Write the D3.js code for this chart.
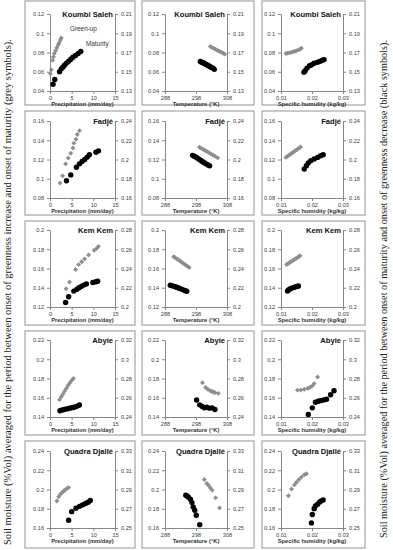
<!DOCTYPE html>
<html>
<head>
<meta charset="utf-8">
<script src="https://cdnjs.cloudflare.com/ajax/libs/d3/7.8.5/d3.min.js"></script>
<style>
body { margin: 0; background: #fff; }
</style>
</head>
<body>
<div class="container"></div>
<script>
const sites = ["Koumbi Saleh", "Fadjé", "Kem Kem", "Abyie", "Quadra Djallé"];
const leftTicks = [
  [0.04, 0.06, 0.08, 0.1, 0.12],
  [0.08, 0.1, 0.12, 0.14, 0.16],
  [0.12, 0.14, 0.16, 0.18, 0.2],
  [0.14, 0.16, 0.18, 0.2, 0.22],
  [0.16, 0.18, 0.2, 0.22, 0.24]
];
const rightTicks = [
  [0.13, 0.15, 0.17, 0.19, 0.21],
  [0.16, 0.18, 0.2, 0.22, 0.24],
  [0.2, 0.22, 0.24, 0.26, 0.28],
  [0.24, 0.26, 0.28, 0.3, 0.32],
  [0.25, 0.27, 0.29, 0.31, 0.33]
];
const precipTicks = [0, 5, 10, 15];
const tempTicks = [288, 298, 308];
const humTicks = [0.01, 0.02, 0.03];
const xTitles = ["Precipitation (mm/day)", "Temperature (°K)", "Specific humidity (kg/kg)"];

// grey = left axis, black = right axis; [x, soil moisture]
const koumbiPrecipGrey = [[0.1,0.058],[0.3,0.062],[0.6,0.072],[0.8,0.0755],[1.0,0.079],[1.3,0.082],[1.6,0.085],[1.9,0.088],[2.1,0.090],[2.4,0.093],[2.6,0.095]];
const koumbiPrecipBlack = [[0.7,0.137],[1.1,0.142],[2.2,0.150],[2.6,0.153],[3.0,0.155],[3.4,0.157],[3.8,0.159],[4.3,0.161],[4.8,0.163],[5.3,0.165],[5.9,0.167],[6.5,0.169],[7.1,0.171]];
const koumbiTempGrey = [[302.6,0.0862],[303.1,0.0853],[303.6,0.0845],[304.1,0.0836],[304.6,0.0827],[305.2,0.0818],[305.7,0.081],[306.3,0.0801],[306.8,0.0792],[307.3,0.0783]];
const koumbiTempBlack = [[299.4,0.1607],[299.8,0.16],[300.2,0.1594],[300.6,0.1588],[301.0,0.1581],[301.4,0.1574],[301.8,0.1567],[302.2,0.156],[302.6,0.1552],[303.0,0.1545],[303.5,0.1537],[303.9,0.1525]];
const koumbiHumGrey = [[0.0116,0.0789],[0.0121,0.0793],[0.0127,0.0797],[0.0133,0.0801],[0.0139,0.0807],[0.0145,0.0813],[0.0151,0.082],[0.0157,0.0827],[0.0162,0.0836],[0.0166,0.0845]];
const koumbiHumBlack = [[0.0174,0.1496],[0.0178,0.151],[0.0184,0.1538],[0.0192,0.1563],[0.0199,0.1573],[0.0207,0.1588],[0.0218,0.1598],[0.0226,0.1609],[0.0234,0.1619],[0.0239,0.1626]];

const fadjePrecipGrey = [[2.3,0.0955],[2.9,0.103],[3.6,0.1155],[4.2,0.1215],[4.8,0.1265],[5.3,0.132],[5.5,0.137],[6.0,0.141],[6.3,0.146],[6.8,0.150]];
const fadjePrecipBlack = [[3.8,0.178],[4.8,0.184],[6.1,0.192],[6.8,0.1955],[7.4,0.198],[8.0,0.2],[8.6,0.2025],[9.1,0.205],[10.6,0.2075],[11.2,0.209]];
const fadjeTempGrey = [[299.1,0.1328],[299.7,0.1317],[300.3,0.1305],[300.9,0.1294],[301.5,0.1283],[302.1,0.1272],[302.8,0.1259],[303.5,0.1246],[304.2,0.1232],[305.0,0.1217]];
const fadjeTempBlack = [[296.9,0.2043],[297.4,0.2035],[297.9,0.2026],[298.4,0.2015],[298.9,0.2004],[299.4,0.1994],[299.9,0.1983],[300.4,0.1972],[300.9,0.1962],[301.4,0.1952],[301.9,0.1943],[302.4,0.1934]];
const fadjeHumGrey = [[0.0116,0.1222],[0.0121,0.1234],[0.0126,0.1245],[0.0131,0.1257],[0.0136,0.1268],[0.0141,0.128],[0.0147,0.1293],[0.0153,0.1306],[0.0158,0.1318],[0.0163,0.133]];
const fadjeHumBlack = [[0.0175,0.1902],[0.0182,0.1936],[0.0188,0.1964],[0.0196,0.1988],[0.0207,0.2005],[0.0218,0.2022],[0.0228,0.2039],[0.0236,0.205]];

const kemPrecipGrey = [[3.7,0.139],[4.5,0.146],[5.9,0.159],[6.6,0.164],[7.3,0.167],[8.0,0.17],[8.9,0.174],[10.2,0.179],[10.8,0.181],[11.2,0.183]];
const kemPrecipBlack = [[3.6,0.2046],[4.3,0.2107],[5.5,0.2165],[6.2,0.2185],[6.7,0.22],[7.3,0.2215],[7.9,0.223],[8.4,0.224],[9.9,0.2255],[10.6,0.2262],[11.0,0.2268]];
const kemTempGrey = [[290.8,0.1722],[291.3,0.1711],[291.9,0.1699],[292.4,0.1688],[293.0,0.1675],[293.5,0.1663],[294.1,0.165],[294.6,0.1637],[295.2,0.1624],[295.8,0.161]];
const kemTempBlack = [[289.7,0.2226],[290.2,0.2222],[290.7,0.2217],[291.2,0.2212],[291.7,0.2206],[292.2,0.22],[292.7,0.2193],[293.3,0.2186],[293.9,0.2178],[294.5,0.217],[295.0,0.2163]];
const kemHumGrey = [[0.0118,0.1642],[0.0123,0.1652],[0.0128,0.1662],[0.0133,0.1672],[0.0138,0.1683],[0.0143,0.1693],[0.0148,0.1703],[0.0153,0.1713],[0.0157,0.1722],[0.0161,0.1732]];
const kemHumBlack = [[0.0121,0.2167],[0.0125,0.218],[0.013,0.219],[0.0136,0.2197],[0.0142,0.2204],[0.0148,0.221],[0.0153,0.2214],[0.0156,0.2218]];

const abyiePrecipGrey = [[2.2,0.158],[2.6,0.161],[3.0,0.164],[3.4,0.167],[3.8,0.17],[4.2,0.173],[4.6,0.1755],[5.0,0.178],[5.4,0.18]];
const abyiePrecipBlack = [[2.3,0.2465],[2.8,0.2472],[3.3,0.2478],[3.8,0.2484],[4.3,0.2489],[4.8,0.2494],[5.3,0.2499],[5.8,0.2505],[6.3,0.2513],[6.8,0.2525]];
const abyieTempGrey = [[300.1,0.1757],[301.1,0.1706],[301.8,0.1689],[302.6,0.1672],[303.2,0.1665],[303.6,0.166],[304.1,0.1655],[305.2,0.1645]];
const abyieTempBlack = [[298.2,0.2577],[299.2,0.2526],[300.0,0.2509],[300.7,0.2495],[301.5,0.2502],[302.3,0.2492],[303.2,0.2495],[304.1,0.2478]];
const abyieHumGrey = [[0.0153,0.1679],[0.0164,0.168],[0.0175,0.1689],[0.0186,0.1697],[0.0193,0.1706],[0.0201,0.1723],[0.0207,0.1747],[0.0218,0.1815]];
const abyieHumBlack = [[0.0188,0.2427],[0.0201,0.2495],[0.0211,0.2553],[0.022,0.2563],[0.0227,0.257],[0.0238,0.2577],[0.0247,0.2584],[0.026,0.2631],[0.0271,0.2672]];

const quadraPrecipGrey = [[1.6,0.188],[2.0,0.1925],[2.4,0.195],[2.8,0.197],[3.2,0.1985],[3.5,0.1998],[3.9,0.201],[4.3,0.202]];
const quadraPrecipBlack = [[4.3,0.258],[5.0,0.267],[6.0,0.2705],[6.8,0.2725],[7.5,0.274],[8.2,0.2755],[8.8,0.2768],[9.3,0.2785]];
const quadraTempGrey = [[300.7,0.2104],[301.5,0.2063],[302.0,0.2045],[302.6,0.2017],[303.2,0.1993],[304.3,0.1913],[305.6,0.1809]];
const quadraTempBlack = [[294.7,0.2841],[295.1,0.2833],[295.5,0.2823],[296.2,0.2799],[296.7,0.2764],[297.1,0.2719],[297.6,0.2684],[298.1,0.2632],[299.2,0.2535]];
const quadraHumGrey = [[0.0124,0.1935],[0.0134,0.2005],[0.0143,0.2048],[0.015,0.2076],[0.0158,0.2104],[0.0166,0.2129],[0.0175,0.2153],[0.0182,0.2164]];
const quadraHumBlack = [[0.0198,0.2553],[0.0201,0.2641],[0.0207,0.2701],[0.0211,0.2729],[0.0218,0.2747],[0.0225,0.2771],[0.023,0.2782],[0.0236,0.2792]];

const greyData = [
  [koumbiPrecipGrey, koumbiTempGrey, koumbiHumGrey],
  [fadjePrecipGrey, fadjeTempGrey, fadjeHumGrey],
  [kemPrecipGrey, kemTempGrey, kemHumGrey],
  [abyiePrecipGrey, abyieTempGrey, abyieHumGrey],
  [quadraPrecipGrey, quadraTempGrey, quadraHumGrey]
];
const blackData = [
  [koumbiPrecipBlack, koumbiTempBlack, koumbiHumBlack],
  [fadjePrecipBlack, fadjeTempBlack, fadjeHumBlack],
  [kemPrecipBlack, kemTempBlack, kemHumBlack],
  [abyiePrecipBlack, abyieTempBlack, abyieHumBlack],
  [quadraPrecipBlack, quadraTempBlack, quadraHumBlack]
];

const w = 393;
const h = 550;
const colBox = [[25, 135], [142, 254], [262, 365]];
const colPlot = [[50, 115], [165, 227], [281, 343]];
const rowBox = [[1, 105], [111, 215], [221, 325], [331, 435], [441, 548]];
const rowPlot = [14, 121, 230, 340, 451];
const plotH = 77;
const xTickSets = [precipTicks, tempTicks, humTicks];
const axisColor = "#868686";
const greyColor = "#8e8e8e";
const fmt = d3.format("~g");

const svg = d3.select(".container")
  .append("svg")
  .attr("width", w)
  .attr("height", h);

function styleAxis(sel) {
  sel.attr("font-family", "'Liberation Sans', Arial, sans-serif")
    .attr("font-size", 5.6);
  sel.select(".domain").attr("stroke", axisColor);
  sel.selectAll(".tick line").attr("stroke", axisColor);
  sel.selectAll(".tick text").attr("fill", "#404040");
}

const diamond = d3.symbol().type(d3.symbolSquare).size(12);

for (let r = 0; r < sites.length; r++) {
  for (let c = 0; c < 3; c++) {
    const g = svg.append("g");
    g.append("rect")
      .attr("x", colBox[c][0])
      .attr("y", rowBox[r][0])
      .attr("width", colBox[c][1] - colBox[c][0])
      .attr("height", rowBox[r][1] - rowBox[r][0])
      .attr("fill", "#fff")
      .attr("stroke", "#a6a6a6")
      .attr("stroke-width", 1.2);

    const xt = xTickSets[c];
    const top = rowPlot[r];
    const bottom = rowPlot[r] + plotH;
    const xScale = d3.scaleLinear()
      .domain([xt[0], xt[xt.length - 1]])
      .range(colPlot[c]);
    const yLeft = d3.scaleLinear()
      .domain([leftTicks[r][0], leftTicks[r][4]])
      .range([bottom, top]);
    const yRight = d3.scaleLinear()
      .domain([rightTicks[r][0], rightTicks[r][4]])
      .range([bottom, top]);

    g.append("g")
      .attr("transform", "translate(0," + bottom + ")")
      .call(d3.axisBottom(xScale).tickValues(xt).tickFormat(fmt).tickSize(3).tickSizeOuter(0).tickPadding(2))
      .call(styleAxis);
    g.append("g")
      .attr("transform", "translate(" + colPlot[c][0] + ",0)")
      .call(d3.axisLeft(yLeft).tickValues(leftTicks[r]).tickFormat(fmt).tickSize(3).tickSizeOuter(0).tickPadding(3))
      .call(styleAxis);
    g.append("g")
      .attr("transform", "translate(" + colPlot[c][1] + ",0)")
      .call(d3.axisRight(yRight).tickValues(rightTicks[r]).tickFormat(fmt).tickSize(3).tickSizeOuter(0).tickPadding(3))
      .call(styleAxis);

    g.append("text")
      .attr("x", (colPlot[c][0] + colPlot[c][1]) / 2)
      .attr("y", bottom + 14.5)
      .attr("text-anchor", "middle")
      .attr("font-family", "'Liberation Sans', Arial, sans-serif")
      .attr("font-weight", "bold")
      .attr("font-size", 5.8)
      .attr("fill", "#333")
      .text(xTitles[c]);

    g.append("text")
      .attr("x", colPlot[c][1] - 2)
      .attr("y", top + 2.8)
      .attr("text-anchor", "end")
      .attr("font-family", "'Liberation Sans', Arial, sans-serif")
      .attr("font-weight", "bold")
      .attr("font-size", 7.6)
      .attr("fill", "#111")
      .text(sites[r]);

    g.selectAll(".grey")
      .data(greyData[r][c])
      .enter()
      .append("path")
      .attr("d", diamond)
      .attr("transform", (d) => "translate(" + xScale(d[0]) + "," + yLeft(d[1]) + ") rotate(45)")
      .attr("fill", greyColor);

    g.selectAll(".black")
      .data(blackData[r][c])
      .enter()
      .append("circle")
      .attr("cx", (d) => xScale(d[0]))
      .attr("cy", (d) => yRight(d[1]))
      .attr("r", 2.7)
      .attr("fill", "#000");

    if (r === 0 && c === 0) {
      g.append("text")
        .attr("x", xScale(4.6))
        .attr("y", yLeft(0.1023))
        .attr("font-family", "'Liberation Sans', Arial, sans-serif")
        .attr("font-size", 6.4)
        .attr("fill", "#333")
        .text("Green-up");
      g.append("text")
        .attr("x", xScale(8.3))
        .attr("y", yLeft(0.0867))
        .attr("font-family", "'Liberation Sans', Arial, sans-serif")
        .attr("font-size", 6.4)
        .attr("fill", "#333")
        .text("Maturity");
    }
  }
}

svg.append("text")
  .attr("transform", "translate(11,292) rotate(-90)")
  .attr("text-anchor", "middle")
  .attr("font-family", "'Liberation Serif', 'Times New Roman', serif")
  .attr("font-size", 9.8)
  .attr("fill", "#222")
  .attr("textLength", 506)
  .attr("lengthAdjust", "spacingAndGlyphs")
  .text("Soil moisture (%Vol) averaged for the period between onset of greenness increase and onset of maturity (grey symbols).");

svg.append("text")
  .attr("transform", "translate(387,289) rotate(-90)")
  .attr("text-anchor", "middle")
  .attr("font-family", "'Liberation Serif', 'Times New Roman', serif")
  .attr("font-size", 9.8)
  .attr("fill", "#222")
  .attr("textLength", 498)
  .attr("lengthAdjust", "spacingAndGlyphs")
  .text("Soil moisture (%Vol) averaged for the period between onset of maturity and onset of greenness decrease (black symbols).");
</script>
</body>
</html>
